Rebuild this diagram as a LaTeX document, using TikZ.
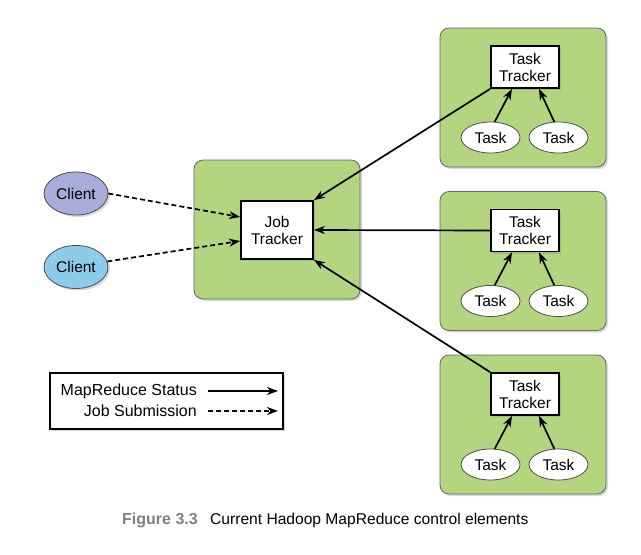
\documentclass[tikz,border=0pt]{standalone}
\usepackage{fontspec}
\setmainfont{Liberation Sans}
\usetikzlibrary{shapes.geometric,arrows.meta,shadows}
\definecolor{grn}{HTML}{B3D57F}
\definecolor{cli1}{HTML}{A9ABD8}
\definecolor{cli2}{HTML}{8DCBEB}
\definecolor{capgray}{HTML}{808080}
\tikzset{
  x=1pt,y=-1pt,
  shd/.style={drop shadow={opacity=0.3,shadow xshift=2pt,shadow yshift=-2pt}},
  greenbox/.style={draw=black!60,line width=0.8pt,fill=grn,rounded corners=9pt,minimum width=166pt,minimum height=139pt,shd},
  tracker/.style={draw=black,line width=1.8pt,fill=white,align=center,font=\fontsize{15.5}{17}\selectfont,inner sep=0pt,shd},
  ell/.style={ellipse,draw=black!70,line width=0.8pt,inner sep=0pt,font=\fontsize{15.5}{17}\selectfont},
  task/.style={ell,fill=white,minimum width=59pt,minimum height=31pt},
  client/.style={ell,minimum width=64pt,minimum height=43pt,shd},
  status/.style={line width=1.7pt,-{Stealth[length=11pt,width=8pt,inset=3.5pt]}},
  submit/.style={status,dash pattern=on 5pt off 3pt},
  legtext/.style={anchor=east,font=\fontsize{16}{18}\selectfont,inner sep=0pt}
}
\begin{document}
\begin{tikzpicture}
\useasboundingbox (0,0) rectangle (641,555);
% job tracker group
\node[greenbox] (jg) at (277,229.5) {};
\node[tracker,minimum width=72pt,minimum height=58pt] (jt) at (277,230) {Job\\Tracker};
% clients
\node[client,fill=cli1] (c1) at (76,193.5) {Client};
\node[client,fill=cli2] (c2) at (76,267) {Client};
% task tracker groups
\foreach \i/\dy in {1/0,2/163.5,3/327}{
  \node[greenbox] (g\i) at (523,97.5+\dy) {};
  \node[tracker,minimum width=68pt,minimum height=42pt] (tt\i) at (525,67+\dy) {Task\\Tracker};
  \node[task] (ta\i) at (490.5,137.5+\dy) {Task};
  \node[task] (tb\i) at (558.5,137.5+\dy) {Task};
  \draw[status] (ta\i.75) -- ([xshift=-13pt]tt\i.south);
  \draw[status] (tb\i.105) -- ([xshift=14pt]tt\i.south);
}
% status arrows
\draw[status] (tt1.south west) -- (jt.north east);
\draw[status] (tt2.west) -- (jt.east);
\draw[status] (tt3.north west) -- (jt.south east);
% submission arrows
\draw[submit] (c1.east) -- ([yshift=13pt]jt.west);
\draw[submit] (c2.10) -- ([yshift=-11pt]jt.west);
% legend
\node[draw=black,line width=1.8pt,fill=white,minimum width=233pt,minimum height=56pt,inner sep=0pt,shd] (leg) at (166.5,401) {};
\node[legtext] (l1) at (197,391) {MapReduce Status};
\node[legtext] (l2) at (197,411) {Job Submission};
\coordinate (a1s) at (208,391);
\coordinate (a1e) at (278,391);
\coordinate (a2s) at (208,411);
\coordinate (a2e) at (278,411);
\draw[status] (a1s) -- (a1e);
\draw[submit] (a2s) -- (a2e);
% caption
\node[anchor=west,inner sep=0pt,font=\fontsize{16}{18}\selectfont\bfseries,text=capgray] (fig) at (122,520) {Figure 3.3};
\node[anchor=west,inner sep=0pt,font=\fontsize{15.6}{18}\selectfont] (cap) at (210,520) {Current Hadoop MapReduce control elements};
\end{tikzpicture}
\end{document}
